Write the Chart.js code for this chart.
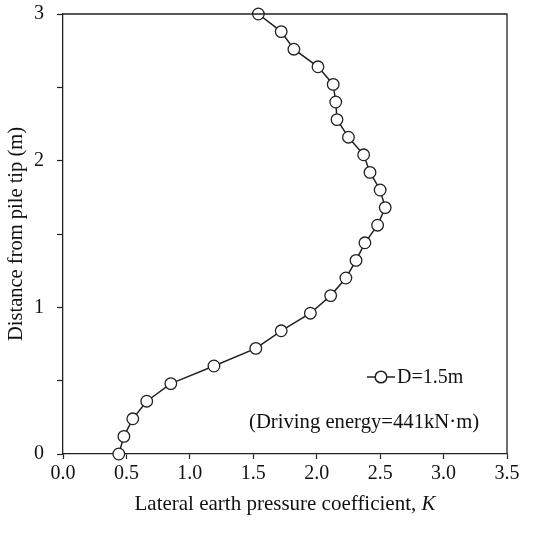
<!DOCTYPE html>
<html>
<head>
<meta charset="utf-8">
<script src="https://cdn.jsdelivr.net/npm/chart.js@4.4.1/dist/chart.umd.min.js"></script>
<style>
  html, body { margin: 0; padding: 0; background: #fff; }
  #wrap { width: 541px; height: 544px; }
</style>
</head>
<body>
<div id="wrap"><canvas id="grafico" width="541" height="544"></canvas></div>
<script>
// valores (K x distância da ponta)
const distancias = [0, 0.12, 0.24, 0.36, 0.48, 0.6, 0.72, 0.84, 0.96, 1.08, 1.2, 1.32, 1.44, 1.56, 1.68, 1.8, 1.92, 2.04, 2.16, 2.28, 2.4, 2.52, 2.64, 2.76, 2.88, 3.0]
const valoresK = [0.44, 0.48, 0.55, 0.66, 0.85, 1.19, 1.52, 1.72, 1.95, 2.11, 2.23, 2.31, 2.38, 2.48, 2.54, 2.50, 2.42, 2.37, 2.25, 2.16, 2.15, 2.13, 2.01, 1.82, 1.72, 1.54]
const ticksX = [0, 0.5, 1, 1.5, 2, 2.5, 3, 3.5]
const ticksY = [0, 0.5, 1, 1.5, 2, 2.5, 3]
const nomeSerie = 'D=1.5m'
const textoEnergia = '(Driving energy=441kN\u00b7m)'
const tituloX = 'Lateral earth pressure coefficient, '
const tituloXItalico = 'K'
const tituloY = 'Distance from pile tip (m)'

const FONTE = "'Liberation Serif', 'Times New Roman', serif"
const COR = '#222'

const pontos = distancias.map((d, i) => ({ x: valoresK[i], y: d }))

// moldura, títulos e legenda desenhados à mão
const extras = {
	id: 'extras',
	afterDraw(chart) {
		const { ctx, chartArea } = chart
		ctx.save()
		ctx.strokeStyle = COR
		ctx.lineWidth = 1.3
		ctx.beginPath()
		ctx.moveTo(chartArea.left, chartArea.top)
		ctx.lineTo(chartArea.right, chartArea.top)
		ctx.lineTo(chartArea.right, chartArea.bottom)
		ctx.stroke()

		ctx.fillStyle = '#111'
		ctx.textBaseline = 'middle'
		// título eixo X
		ctx.font = `21px ${FONTE}`
		const w1 = ctx.measureText(tituloX).width
		ctx.font = `italic 21px ${FONTE}`
		const w2 = ctx.measureText(tituloXItalico).width
		const cx = (chartArea.left + chartArea.right) / 2
		let x0 = cx - (w1 + w2) / 2
		ctx.textAlign = 'left'
		ctx.font = `21px ${FONTE}`
		ctx.fillText(tituloX, x0, 504)
		ctx.font = `italic 21px ${FONTE}`
		ctx.fillText(tituloXItalico, x0 + w1, 504)

		// título eixo Y
		ctx.save()
		ctx.translate(17, (chartArea.top + chartArea.bottom) / 2)
		ctx.rotate(-Math.PI / 2)
		ctx.textAlign = 'center'
		ctx.font = `20.5px ${FONTE}`
		ctx.fillText(tituloY, 0, 0)
		ctx.restore()

		// legenda
		const ly = 377
		ctx.strokeStyle = COR
		ctx.lineWidth = 1.5
		ctx.beginPath()
		ctx.moveTo(367, ly)
		ctx.lineTo(395, ly)
		ctx.stroke()
		ctx.beginPath()
		ctx.arc(381, ly, 5.8, 0, Math.PI * 2)
		ctx.fillStyle = '#fff'
		ctx.fill()
		ctx.stroke()
		ctx.fillStyle = '#111'
		ctx.textAlign = 'left'
		ctx.font = `20px ${FONTE}`
		ctx.fillText(nomeSerie, 397, ly + 1)
		ctx.font = `20.7px ${FONTE}`
		ctx.fillText(textoEnergia, 249, 423)
		ctx.restore()
	}
}

const chart = new Chart(document.getElementById('grafico'), {
	type: 'scatter',
	data: {
		datasets: [{
			label: nomeSerie,
			data: pontos,
			showLine: true,
			borderColor: COR,
			borderWidth: 1.5,
			backgroundColor: '#fff',
			pointRadius: 5.8,
			pointBorderWidth: 1.3,
			pointBorderColor: COR,
			pointBackgroundColor: '#fff',
			tension: 0,
			clip: false
		}]
	},
	options: {
		responsive: false,
		animation: false,
		layout: { padding: { top: 14, right: 34, left: 0, bottom: 0 } },
		plugins: { legend: { display: false }, tooltip: { enabled: false } },
		scales: {
			x: {
				type: 'linear',
				min: 0,
				max: 3.5,
				afterBuildTicks: (s) => { s.ticks = ticksX.map(v => ({ value: v })) },
				afterFit: (s) => { s.height = 90; s.paddingLeft = 0; s.paddingRight = 0 },
				ticks: {
					callback: (v) => Number(v).toFixed(1),
					color: '#111',
					font: { family: FONTE, size: 20 },
					padding: 3,
					maxRotation: 0
				},
				grid: { drawOnChartArea: false, drawTicks: true, tickLength: 5, tickColor: COR, tickWidth: 1.2 },
				border: { display: true, color: COR, width: 1.3 }
			},
			y: {
				type: 'linear',
				min: 0,
				max: 3,
				afterBuildTicks: (s) => { s.ticks = ticksY.map(v => ({ value: v })) },
				afterFit: (s) => { s.width = 63; s.paddingTop = 0; s.paddingBottom = 0 },
				ticks: {
					callback: (v) => (v % 1 === 0 ? String(v) : ''),
					color: '#111',
					font: { family: FONTE, size: 20 },
					padding: 13
				},
				grid: { drawOnChartArea: false, drawTicks: true, tickLength: 6, tickColor: COR, tickWidth: 1.2 },
				border: { display: true, color: COR, width: 1.3 }
			}
		}
	},
	plugins: [extras]
})
</script>
</body>
</html>
